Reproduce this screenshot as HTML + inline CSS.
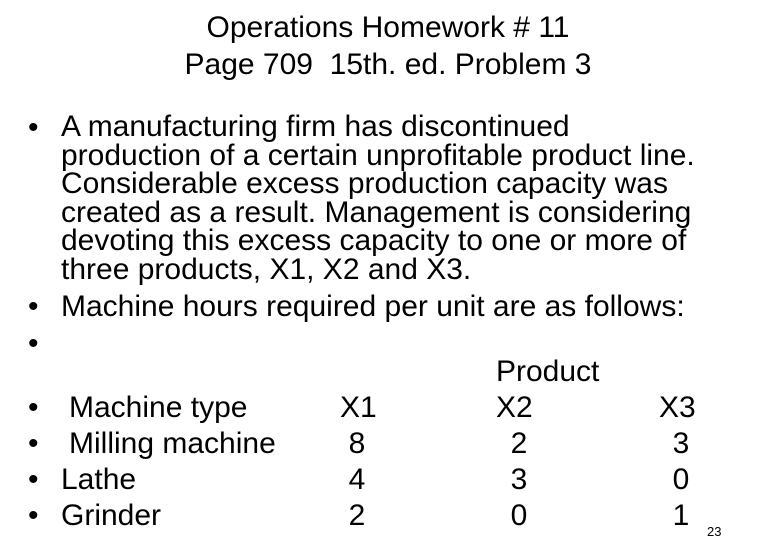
<!DOCTYPE html>
<html><head><meta charset="utf-8"><style>
body{margin:0;width:762px;height:539px;background:#fff;overflow:hidden;position:relative;font-family:"Liberation Sans",Arial,sans-serif;color:#000}
.t{position:absolute;font-size:30px;line-height:30px;white-space:pre}
.c{text-align:center}
.b{position:absolute;left:28px;font-size:30px;line-height:30px}
</style></head><body>
<div class="t c" style="left:0;width:776px;top:13px;font-size:30px">Operations Homework # 11</div>
<div class="t c" style="left:0;width:776px;top:50px;font-size:30px">Page 709  15th. ed. Problem 3</div>

<div class="b" style="top:113px">•</div>
<div class="t" style="left:61px;top:113px;line-height:28.5px">A manufacturing firm has discontinued
production of a certain unprofitable product line.
Considerable excess production capacity was
created as a result. Management is considering
devoting this excess capacity to one or more of
three products, X1, X2 and X3.</div>
<div class="b" style="top:292px">•</div>
<div class="t" style="left:61px;top:292px">Machine hours required per unit are as follows:</div>
<div class="b" style="top:329px">•</div>
<div class="t" style="left:496px;top:357px">Product</div>

<div class="b" style="top:393px">•</div>
<div class="t" style="left:69px;top:393px">Machine type</div>
<div class="t" style="left:340px;top:393px">X1</div>
<div class="t" style="left:496px;top:393px">X2</div>
<div class="t" style="left:659px;top:393px">X3</div>

<div class="b" style="top:429px">•</div>
<div class="t" style="left:69px;top:429px">Milling machine</div>
<div class="t c" style="left:337px;width:40px;top:429px">8</div>
<div class="t c" style="left:499px;width:40px;top:429px">2</div>
<div class="t c" style="left:661px;width:40px;top:429px">3</div>

<div class="b" style="top:465px">•</div>
<div class="t" style="left:61px;top:465px">Lathe</div>
<div class="t c" style="left:337px;width:40px;top:465px">4</div>
<div class="t c" style="left:499px;width:40px;top:465px">3</div>
<div class="t c" style="left:661px;width:40px;top:465px">0</div>

<div class="b" style="top:501px">•</div>
<div class="t" style="left:61px;top:501px">Grinder</div>
<div class="t c" style="left:337px;width:40px;top:501px">2</div>
<div class="t c" style="left:499px;width:40px;top:501px">0</div>
<div class="t c" style="left:661px;width:40px;top:501px">1</div>

<div class="t" style="left:707px;top:524px;font-size:13px;line-height:16px">23</div>
</body></html>
